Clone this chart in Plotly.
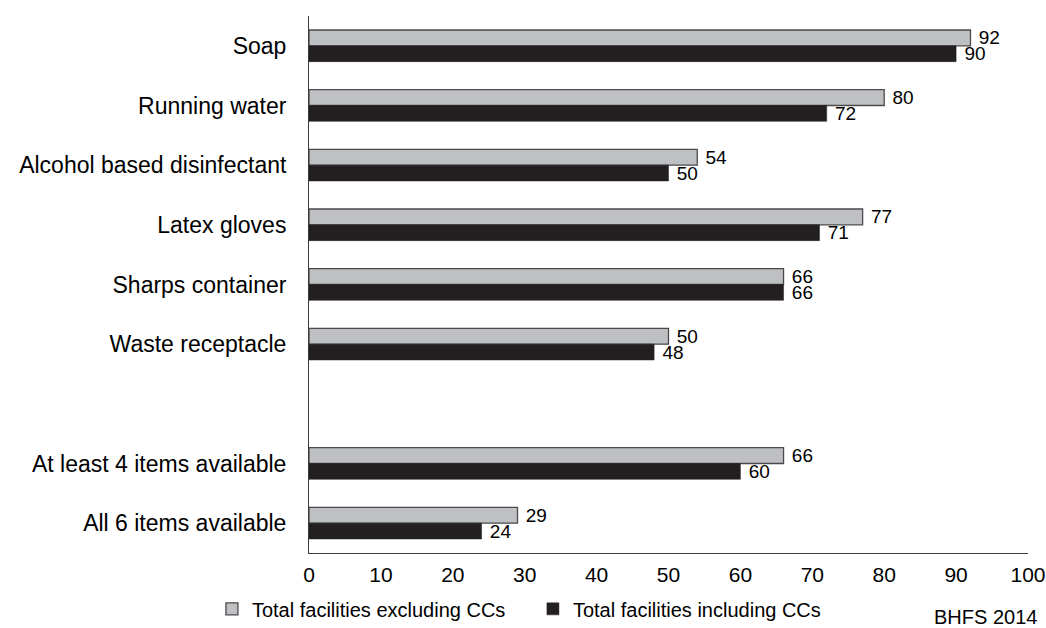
import plotly.graph_objects as go

categories = [
    "Soap",
    "Running water",
    "Alcohol based disinfectant",
    "Latex gloves",
    "Sharps container",
    "Waste receptacle",
    " ",
    "At least 4 items available",
    "All 6 items available",
]
excluding_ccs = [92, 80, 54, 77, 66, 50, None, 66, 29]
including_ccs = [90, 72, 50, 71, 66, 48, None, 60, 24]
x_ticks = [0, 10, 20, 30, 40, 50, 60, 70, 80, 90, 100]

FONT = "Liberation Sans, Arial, sans-serif"

fig = go.Figure()
fig.add_trace(go.Bar(
    y=categories, x=excluding_ccs, orientation="h",
    name="Total facilities excluding CCs",
    marker=dict(color="#bfc0c3", line=dict(color="#4a4a4a", width=1.3)),
    texttemplate=" %{x}", textposition="outside", cliponaxis=False,
    constraintext="none",
    textfont=dict(family=FONT, size=19, color="#000"),
))
fig.add_trace(go.Bar(
    y=categories, x=including_ccs, orientation="h",
    name="Total facilities including CCs",
    marker=dict(color="#231f20", line=dict(color="#231f20", width=0.5)),
    texttemplate=" %{x}", textposition="outside", cliponaxis=False,
    constraintext="none",
    textfont=dict(family=FONT, size=19, color="#000"),
))

fig.update_layout(
    width=1046, height=628,
    margin=dict(l=309, r=18, t=16, b=75, autoexpand=False),
    paper_bgcolor="white", plot_bgcolor="white",
    barmode="group", bargap=0.47, bargroupgap=0,
    font=dict(family=FONT, color="#000"),
    showlegend=True,
    legend=dict(
        orientation="h", x=-0.135, xanchor="left", y=-0.104, yanchor="middle",
        font=dict(family=FONT, size=20, color="#000"),
        bgcolor="rgba(0,0,0,0)",
        traceorder="normal", entrywidth=276, entrywidthmode="pixels",
        itemwidth=30,
    ),
    annotations=[dict(
        text="BHFS 2014", xref="paper", yref="paper", x=1.015, y=-0.12,
        xanchor="right", yanchor="middle", showarrow=False,
        font=dict(family=FONT, size=20, color="#000"),
    )],
)
fig.update_xaxes(
    range=[0, 100], tickvals=x_ticks, showgrid=False, zeroline=False,
    showline=True, linecolor="#3a3a3a", linewidth=1, ticks="",
    ticklabelstandoff=3, ticklabeloverflow="allow",
    tickfont=dict(family=FONT, size=21, color="#000"),
)
fig.update_yaxes(
    categoryorder="array", categoryarray=categories, autorange="reversed",
    showgrid=False, zeroline=False, showline=True, linecolor="#3a3a3a",
    linewidth=1, ticks="", ticklabelstandoff=17,
    tickfont=dict(family=FONT, size=23, color="#000"),
)

fig.write_html(
    "out.html",
    config={"displayModeBar": False},
    post_script="document.body.style.margin='0';document.body.style.overflow='hidden';",
)
